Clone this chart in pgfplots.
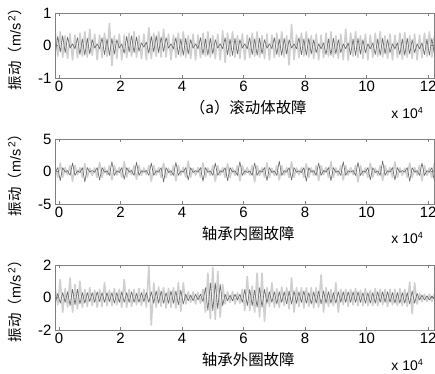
\documentclass[border=0pt]{standalone}
\usepackage{pgfplots}
\usepackage{pgfplotstable}
\pgfplotsset{compat=1.18}
\usepackage{fontspec}
\setmainfont{Liberation Sans}
\newfontfamily\cjk{Noto Sans CJK SC}
\pgfplotstableread[row sep=\\]{
x l1 d1 l2 d2 l3 d3\\
-0.12 0.38 -0.24 0.55 -0.12 0.50 -0.30\\
-0.04 -0.33 0.28 -0.90 0.60 -0.45 0.25\\
0.04 0.42 -0.20 1.30 -1.40 1.10 -0.35\\
0.12 -0.36 0.30 -0.90 0.60 -0.90 0.30\\
0.20 0.30 -0.22 0.60 -0.10 0.55 -0.30\\
0.28 -0.40 0.26 -0.50 0.14 -0.60 0.35\\
0.36 0.35 -0.08 0.90 -0.60 1.20 -0.50\\
0.44 -0.44 0.05 -1.50 1.30 -0.90 0.50\\
0.52 0.32 -0.10 0.90 -0.60 0.80 -0.45\\
0.60 -0.37 0.24 -0.50 0.12 -0.70 0.50\\
0.68 0.38 -0.28 0.60 -0.15 1.00 -0.40\\
0.76 -0.33 0.20 -0.90 0.60 -0.60 0.30\\
0.84 0.42 -0.30 1.20 -1.60 0.50 -0.35\\
0.92 -0.36 0.22 -0.90 0.60 -0.55 0.30\\
1.00 0.50 -0.26 0.50 -0.10 0.60 -0.25\\
1.08 -0.30 0.18 -0.60 0.15 -0.50 0.30\\
1.16 0.35 -0.08 0.55 -0.12 0.45 -0.30\\
1.24 -0.44 0.05 -0.90 0.60 -0.60 0.35\\
1.32 0.32 -0.10 1.40 -1.30 0.50 -0.25\\
1.40 -0.37 0.24 -0.90 0.60 -0.55 0.30\\
1.48 0.38 -0.28 0.65 -0.12 0.90 -0.30\\
1.56 -0.33 0.20 -0.50 0.10 -0.50 0.30\\
1.64 0.68 -0.30 0.90 -0.60 0.45 -0.25\\
1.72 -0.62 0.22 -1.30 1.50 -0.50 0.30\\
1.80 0.30 -0.26 0.90 -0.60 0.55 -0.35\\
1.88 -0.40 0.18 -0.55 0.12 -0.45 0.30\\
1.96 0.35 -0.08 0.60 -0.15 0.50 -0.30\\
2.04 -0.44 0.05 -0.90 0.60 -0.60 0.35\\
2.12 0.32 -0.24 1.50 -1.20 1.10 -0.30\\
2.20 -0.37 0.28 -0.90 0.60 -0.60 0.30\\
2.28 0.38 -0.20 0.55 -0.10 0.50 -0.30\\
2.36 -0.33 0.30 -0.50 0.15 -0.55 0.35\\
2.44 0.42 -0.22 0.90 -0.60 0.50 -0.30\\
2.52 -0.36 0.26 -1.20 1.40 -0.45 0.25\\
2.60 0.30 -0.18 0.90 -0.60 0.55 -0.30\\
2.68 -0.40 0.08 -0.60 0.12 -0.50 0.30\\
2.76 0.35 -0.05 0.55 -0.10 0.50 -0.25\\
2.84 -0.44 0.10 -0.50 0.15 -0.60 0.30\\
2.92 0.55 -0.24 0.90 -0.60 1.90 -0.30\\
3.00 -0.40 0.28 -1.50 1.30 -1.70 0.35\\
3.08 0.38 -0.20 0.90 -0.60 0.90 -0.35\\
3.16 -0.33 0.30 -0.55 0.12 -0.60 0.40\\
3.24 0.42 -0.22 0.60 -0.10 0.65 -0.35\\
3.32 -0.36 0.26 -0.90 0.60 -0.55 0.40\\
3.40 0.50 -0.18 1.30 -1.60 0.60 -0.35\\
3.48 -0.35 0.24 -0.90 0.60 -0.65 0.30\\
3.56 0.35 -0.08 0.50 -0.15 0.55 -0.35\\
3.64 -0.44 0.05 -0.60 0.12 -0.60 0.40\\
3.72 0.32 -0.10 0.90 -0.60 0.60 -0.35\\
3.80 -0.37 0.24 -1.40 1.40 -0.65 0.40\\
3.88 0.38 -0.28 0.90 -0.60 0.90 -0.45\\
3.96 -0.33 0.20 -0.55 0.10 -0.85 0.45\\
4.04 0.42 -0.30 0.65 -0.12 0.90 -0.40\\
4.12 -0.36 0.22 -0.90 0.60 -0.40 0.20\\
4.20 0.30 -0.26 1.60 -1.30 0.35 -0.20\\
4.28 -0.40 0.18 -0.90 0.60 -0.30 0.15\\
4.36 0.35 -0.08 0.50 -0.15 0.35 -0.20\\
4.44 -0.44 0.05 -0.55 0.12 -0.40 0.20\\
4.52 0.32 -0.10 0.60 -0.10 0.30 -0.15\\
4.60 -0.37 0.24 -0.90 0.60 -0.35 0.20\\
4.68 0.38 -0.28 1.30 -1.50 0.50 -0.25\\
4.76 -0.33 0.20 -0.90 0.60 -0.90 0.60\\
4.84 0.42 -0.30 0.55 -0.12 1.50 -0.80\\
4.92 -0.36 0.22 -0.60 0.10 -1.30 0.90\\
5.00 0.30 -0.26 0.90 -0.60 1.85 -0.80\\
5.08 -0.40 0.18 -1.50 1.30 -1.35 0.90\\
5.16 0.35 -0.08 0.90 -0.60 1.60 -0.70\\
5.24 -0.44 0.05 -0.55 0.12 -1.20 0.80\\
5.32 0.45 -0.10 0.60 -0.10 0.80 -0.50\\
5.40 -0.52 0.24 -0.90 0.60 -0.40 0.20\\
5.48 0.38 -0.28 1.20 -1.40 0.35 -0.20\\
5.56 -0.33 0.20 -0.90 0.60 -0.30 0.15\\
5.64 0.42 -0.30 0.55 -0.10 0.35 -0.20\\
5.72 -0.36 0.22 -0.60 0.12 -0.40 0.20\\
5.80 0.30 -0.26 0.90 -0.60 0.30 -0.15\\
5.88 -0.40 0.18 -1.40 1.50 -0.35 0.20\\
5.96 0.35 -0.08 0.90 -0.60 0.50 -0.30\\
6.04 -0.44 0.05 -0.50 0.12 -0.80 0.50\\
6.12 0.32 -0.10 0.60 -0.15 1.30 -0.50\\
6.20 -0.37 0.24 -0.55 0.10 -0.80 0.50\\
6.28 0.38 -0.28 0.90 -0.60 0.70 -0.50\\
6.36 -0.33 0.20 -1.60 1.30 -0.90 0.45\\
6.44 0.42 -0.30 0.90 -0.60 1.50 -0.60\\
6.52 -0.36 0.22 -0.60 0.12 -1.20 0.60\\
6.60 0.30 -0.26 0.55 -0.10 1.50 -0.60\\
6.68 -0.40 0.18 -0.90 0.60 -1.45 0.50\\
6.76 0.35 -0.08 1.30 -1.40 0.60 -0.35\\
6.84 -0.44 0.05 -0.90 0.60 -0.55 0.35\\
6.92 0.32 -0.10 0.50 -0.15 0.90 -0.30\\
7.00 -0.37 0.24 -0.60 0.10 -0.60 0.35\\
7.08 0.38 -0.28 0.90 -0.60 0.55 -0.40\\
7.16 -0.33 0.20 -1.30 1.60 -0.60 0.35\\
7.24 0.42 -0.30 0.90 -0.60 0.65 -0.30\\
7.32 -0.36 0.22 -0.55 0.12 -0.50 0.35\\
7.40 0.30 -0.26 0.60 -0.10 0.60 -0.40\\
7.48 -0.60 0.18 -0.90 0.60 -0.70 0.40\\
7.56 0.65 -0.08 1.50 -1.30 1.20 -0.40\\
7.64 -0.44 0.05 -0.90 0.60 -0.90 0.40\\
7.72 0.32 -0.10 0.55 -0.12 0.60 -0.35\\
7.80 -0.37 0.24 -0.50 0.10 -0.55 0.35\\
7.88 0.38 -0.28 0.60 -0.15 0.60 -0.30\\
7.96 -0.33 0.20 -0.90 0.60 -0.65 0.40\\
8.04 0.42 -0.30 1.20 -1.50 0.60 -0.35\\
8.12 -0.36 0.22 -0.90 0.60 -0.55 0.30\\
8.20 0.30 -0.26 0.55 -0.10 0.60 -0.40\\
8.28 -0.40 0.18 -0.60 0.12 -0.65 0.35\\
8.36 0.35 -0.22 0.90 -0.60 0.60 -0.35\\
8.44 -0.44 0.05 -1.40 1.30 -0.60 0.40\\
8.52 0.32 -0.10 0.90 -0.60 1.40 -0.40\\
8.60 -0.37 0.08 -0.50 0.15 -0.90 0.40\\
8.68 0.38 -0.28 0.60 -0.10 0.60 -0.35\\
8.76 -0.33 0.20 -0.90 0.60 -0.55 0.35\\
8.84 0.42 -0.30 1.50 -1.40 0.50 -0.35\\
8.92 -0.36 0.22 -0.90 0.60 -0.50 0.30\\
9.00 0.30 -0.26 0.55 -0.12 0.90 -0.35\\
9.08 -0.40 0.18 -0.60 0.10 -0.90 0.35\\
9.16 0.35 -0.22 0.90 -0.60 0.50 -0.30\\
9.24 -0.44 0.05 -1.30 1.50 -0.45 0.35\\
9.32 0.50 -0.10 0.90 -0.60 0.50 -0.30\\
9.40 -0.45 0.08 -0.55 0.12 -0.55 0.35\\
9.48 0.38 -0.28 0.60 -0.10 0.50 -0.30\\
9.56 -0.33 0.20 -0.50 0.15 -0.45 0.35\\
9.64 0.42 -0.30 0.90 -0.60 0.55 -0.30\\
9.72 -0.36 0.22 -1.60 1.40 -0.50 0.35\\
9.80 0.30 -0.26 0.90 -0.60 0.45 -0.30\\
9.88 -0.40 0.18 -0.60 0.10 -0.50 0.30\\
9.96 0.35 -0.22 0.55 -0.12 0.55 -0.35\\
10.04 -0.44 0.05 -0.90 0.60 -0.50 0.30\\
10.12 0.32 -0.10 1.30 -1.30 0.45 -0.35\\
10.20 -0.37 0.08 -0.90 0.60 -0.50 0.30\\
10.28 0.38 -0.28 0.50 -0.15 0.55 -0.35\\
10.36 -0.33 0.20 -0.60 0.10 -0.50 0.35\\
10.44 0.42 -0.30 0.90 -0.60 0.50 -0.30\\
10.52 -0.36 0.22 -1.40 1.60 -0.45 0.35\\
10.60 0.30 -0.26 0.90 -0.60 0.50 -0.30\\
10.68 -0.40 0.18 -0.55 0.12 -0.55 0.35\\
10.76 0.35 -0.22 0.60 -0.10 0.50 -0.30\\
10.84 -0.44 0.05 -0.90 0.60 -0.45 0.30\\
10.92 0.32 -0.10 1.50 -1.30 0.50 -0.35\\
11.00 -0.37 0.08 -0.90 0.60 -0.50 0.30\\
11.08 0.38 -0.28 0.55 -0.12 0.55 -0.35\\
11.16 -0.42 0.20 -0.60 0.15 -0.50 0.30\\
11.24 0.40 -0.30 0.50 -0.10 0.50 -0.35\\
11.32 -0.36 0.22 -0.90 0.60 -0.55 0.30\\
11.40 0.30 -0.26 1.30 -1.50 0.95 -0.40\\
11.48 -0.40 0.18 -0.90 0.60 -1.00 0.40\\
11.56 0.35 -0.22 0.60 -0.10 0.90 -0.35\\
11.64 -0.44 0.05 -0.55 0.12 -0.40 0.25\\
11.72 0.32 -0.10 0.90 -0.60 0.25 -0.15\\
11.80 -0.37 0.08 -1.40 1.30 -0.25 0.15\\
11.88 0.38 -0.28 0.90 -0.60 0.20 -0.15\\
11.96 -0.33 0.20 -0.60 0.12 -0.25 0.10\\
12.04 0.42 -0.30 0.55 -0.10 0.20 -0.15\\
12.12 -0.36 0.22 -0.90 0.60 -0.25 0.10\\
12.20 0.30 -0.26 1.30 -1.40 0.20 -0.10\\
}\T
\newcommand\xpow{{\fontsize{14}{14}\selectfont x 10\raisebox{0.7ex}{\fontsize{9}{9}\selectfont 4}}}
\pgfplotsset{sig/.style={
  scale only axis, width=379bp, height=65bp,
  xmin=-0.13, xmax=12.19,
  xtick={0,2,4,6,8,10,12}, xticklabels={0,2,4,6,8,10,12},
  axis line style={black!50}, tick style={black!50, line width=0.4pt},
  major tick length=3bp, axis on top, clip mode=individual,
  ticklabel style={font=\fontsize{15}{15}\selectfont},
  xlabel style={at={(axis description cs:0.51,-0.45)}, anchor=center, font=\cjk\fontsize{15.5}{15.5}\selectfont},
  ylabel style={at={(axis description cs:-0.105,0.5)}, anchor=center, font=\cjk\fontsize{14.5}{14.5}\selectfont},
  ylabel={振动（{\rmfamily m/s\,\textsuperscript{2}}）},
  lt/.style={gray!38, line width=1.6pt, line join=round},
  dk/.style={black!58, line width=0.65pt, line join=round},
}}
\begin{document}
\begin{tikzpicture}
\path[use as bounding box] (0,0) rectangle (435bp,374bp);
\begin{axis}[sig, at={(55bp,361bp)}, anchor=north west,
  ymin=-1, ymax=1, ytick={-1,0,1}, yticklabels={-1,0,1},
  xlabel={（a）滚动体故障}]
\addplot[lt] table[x=x,y=l1]{\T};
\addplot[dk] table[x=x,y=d1]{\T};
\node[inner sep=0pt] at (axis description cs:0.929,-0.54) {\xpow};
\end{axis}
\begin{axis}[sig, at={(55bp,235bp)}, anchor=north west,
  ymin=-5, ymax=5, ytick={-5,0,5}, yticklabels={-5,0,5},
  xlabel={轴承内圈故障}]
\addplot[lt] table[x=x,y=l2]{\T};
\addplot[dk] table[x=x,y=d2]{\T};
\node[inner sep=0pt] at (axis description cs:0.929,-0.52) {\xpow};
\end{axis}
\begin{axis}[sig, at={(55bp,109bp)}, anchor=north west,
  ymin=-2, ymax=2, ytick={-2,0,2}, yticklabels={-2,0,2},
  xlabel={轴承外圈故障}]
\addplot[lt] table[x=x,y=l3]{\T};
\addplot[dk] table[x=x,y=d3]{\T};
\node[inner sep=0pt] at (axis description cs:0.929,-0.54) {\xpow};
\end{axis}
\end{tikzpicture}
\end{document}
